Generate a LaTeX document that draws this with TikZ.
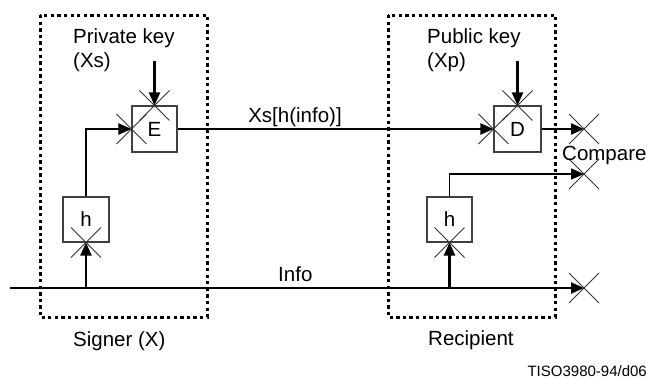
\documentclass[tikz,border=0pt]{standalone}
\usepackage{fontspec}
\setmainfont{Liberation Sans}
\usetikzlibrary{arrows.meta}
\begin{document}
\begin{tikzpicture}[x=1pt,y=-1pt,
  every node/.style={font=\fontsize{20.5}{24}\selectfont, inner sep=0pt},
  fnbox/.style={draw=black!75, line width=1.1pt, minimum width=45pt, minimum height=46pt},
  mainline/.style={line width=2.3pt, -{Triangle[length=13pt,width=11pt]}},
  thinline/.style={line width=1.4pt, -{Triangle[length=13pt,width=11pt]}},
  plainline/.style={line width=2.3pt},
  crossline/.style={line width=0.9pt, black!80},
  dotbox/.style={line width=3pt, dash pattern=on 3.3pt off 3.3pt},
  lbl/.style={anchor=base west}
]
\useasboundingbox (0,0) rectangle (647,378);

% dotted boxes
\draw[dotbox] (40,15) rectangle (207,317);
\draw[dotbox] (388,15) rectangle (555,317);

% function boxes
\node[fnbox] (E) at (154.5,129) {E};
\node[fnbox, minimum width=47pt] (D) at (517.5,129) {D};
\node[fnbox, minimum width=46pt, minimum height=45pt] (hs) at (86,219.5) {h};
\node[fnbox, minimum width=45pt, minimum height=45pt] (hr) at (449.5,219.5) {h};

% free ends
\coordinate (pk) at (154.5,61);
\coordinate (pubk) at (517.5,61);
\coordinate (infoS) at (10,288);
\coordinate (infoE) at (584,288);
\coordinate (outD) at (584,129);
\coordinate (outC) at (584,174);

% connectors
\draw[mainline] (pk) -- (E.north);
\draw[mainline] (pubk) -- (D.north);
\draw[mainline] (infoS) -- (infoE);
\draw[mainline] (hs.south |- infoS) -- (hs.south);
\draw[mainline] (hr.south |- infoS) -- (hr.south);
\draw[mainline] (hs.north) |- (E.west);
\draw[mainline] (E.east) -- (D.west);
\draw[mainline] (D.east) -- (outD);
\draw[thinline] (hr.north) |- (outC);

% crosses
\foreach \p in {E.west,E.north,D.west,D.north,hs.south,hr.south,outD,outC,infoE}{
  \draw[crossline] (\p) +(-15,-15) -- +(15,15) (\p) +(-15,15) -- +(15,-15);
}

% labels
\node[lbl] (tpk) at (73,43) {Private key};
\node[lbl] (txs) at (73,67) {(Xs)};
\node[lbl] (tpub) at (427,43) {Public key};
\node[lbl] (txp) at (427,67) {(Xp)};
\node[anchor=base] (tsig) at (295,122) {Xs[h(info)]};
\node[lbl] (tinfo) at (278,281) {Info};
\node[lbl] (tcmp) at (562,160) {Compare};
\node[lbl] (tsigner) at (73,346) {Signer (X)};
\node[lbl] (trec) at (428,345) {Recipient};
\node[anchor=base east, font=\fontsize{15}{18}\selectfont] (tref) at (647,376) {TISO3980-94/d06};
\end{tikzpicture}
\end{document}
